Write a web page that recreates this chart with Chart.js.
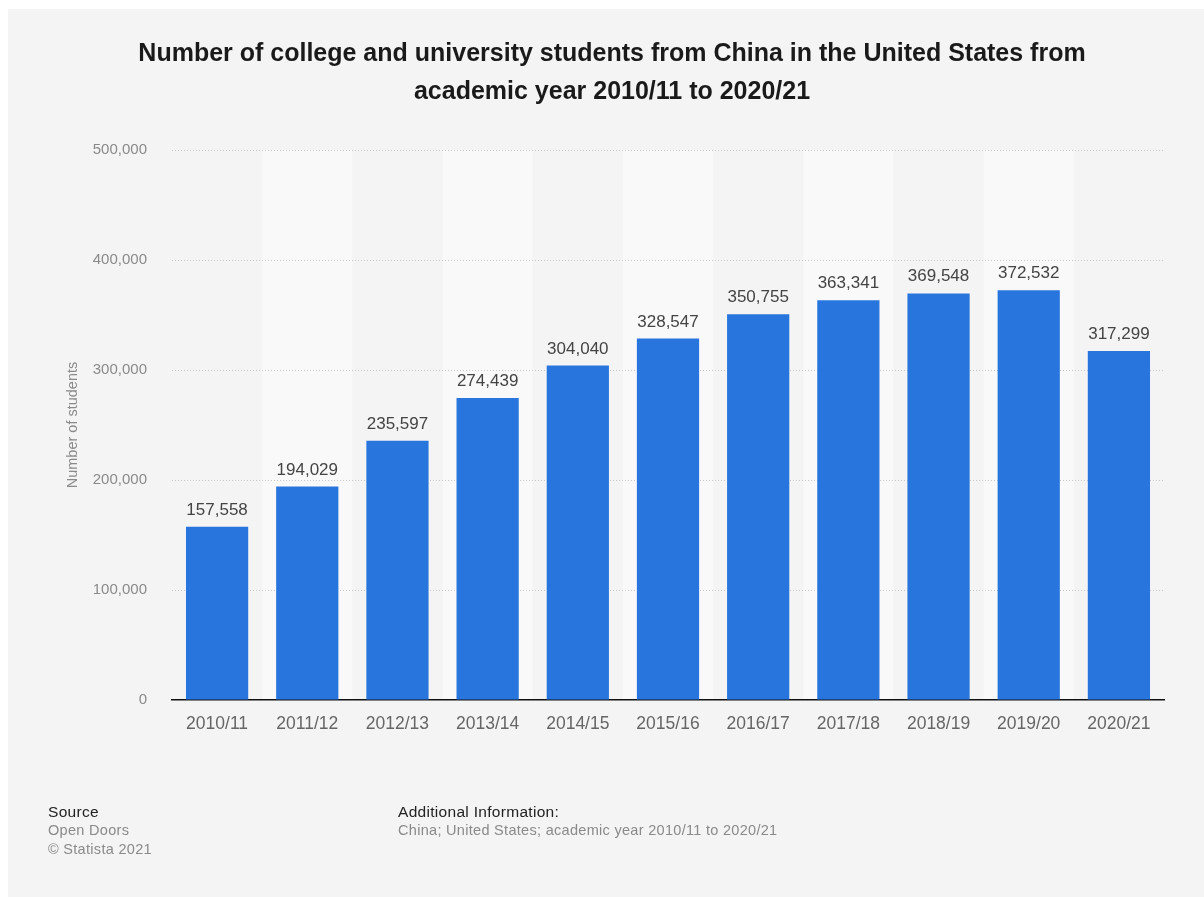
<!DOCTYPE html>
<html>
<head>
<meta charset="utf-8">
<script src="https://cdn.jsdelivr.net/npm/chart.js@4"></script>
<style>
  html, body { margin: 0; padding: 0; background: #ffffff; width: 1204px; height: 897px; overflow: hidden; }
  #panel { position: absolute; left: 8px; top: 9px; right: 0; bottom: 0; background: #f4f4f4; }
  #wrap { position: absolute; left: 0; top: 0; width: 1204px; height: 897px; }
  .foot { position: absolute; font-family: "Liberation Sans", Arial, sans-serif; line-height: 19px; }
  .head { color: #222; font-size: 15.5px; letter-spacing: 0.3px; }
  .sub { color: #8a8a8a; font-size: 14.5px; letter-spacing: 0.3px; }
</style>
</head>
<body>
<div id="panel"></div>
<div id="wrap"><canvas id="grafico" width="1204" height="897"></canvas></div>
<div class="foot" style="left:48px; top:802px;">
  <div class="head">Source</div>
  <div class="sub">Open Doors</div>
  <div class="sub">© Statista 2021</div>
</div>
<div class="foot" style="left:398px; top:802px;">
  <div class="head">Additional Information:</div>
  <div class="sub">China; United States; academic year 2010/11 to 2020/21</div>
</div>
<script>
const anios = ['2010/11', '2011/12', '2012/13', '2013/14', '2014/15', '2015/16', '2016/17', '2017/18', '2018/19', '2019/20', '2020/21'];
const estudiantes = [157558, 194029, 235597, 274439, 304040, 328547, 350755, 363341, 369548, 372532, 317299];
const ticksY = [0, 100000, 200000, 300000, 400000, 500000];

const fmt = n => n.toLocaleString('en-US');
const fuente = '"Liberation Sans", Arial, sans-serif';

// bandas claras detras de las categorias pares (se pintan antes que la grilla)
const fondo = {
  id: 'fondo',
  beforeDraw(chart) {
    const {ctx, chartArea, scales: {x}} = chart;
    const ancho = (chartArea.right - chartArea.left) / anios.length;
    ctx.save();
    ctx.fillStyle = '#f9f9f9';
    anios.forEach((a, i) => {
      if (i % 2 === 1) {
        const cx = x.getPixelForValue(i);
        ctx.fillRect(cx - ancho / 2, chartArea.top, ancho, chartArea.bottom - chartArea.top);
      }
    });
    ctx.restore();
  }
};

// etiquetas de valor encima de cada barra
const etiquetas = {
  id: 'etiquetas',
  afterDatasetsDraw(chart) {
    const {ctx} = chart;
    const meta = chart.getDatasetMeta(0);
    ctx.save();
    ctx.font = '17px ' + fuente;
    ctx.fillStyle = '#444444';
    ctx.textAlign = 'center';
    ctx.textBaseline = 'alphabetic';
    meta.data.forEach((bar, i) => {
      ctx.fillText(fmt(estudiantes[i]), bar.x, bar.y - 12);
    });
    ctx.restore();
  }
};

const $ctx = document.getElementById('grafico').getContext('2d');

const chart = new Chart($ctx, {
  type: 'bar',
  data: {
    labels: anios,
    datasets: [{
      label: 'Number of students',
      data: estudiantes,
      backgroundColor: '#2876dd',
      borderWidth: 0,
      barPercentage: 0.69,
      categoryPercentage: 1.0
    }]
  },
  options: {
    responsive: false,
    animation: false,
    layout: { padding: { top: 14, left: 60, right: 40, bottom: 157 } },
    plugins: {
      legend: { display: false },
      tooltip: { enabled: false },
      title: {
        display: true,
        text: ['Number of college and university students from China in the United States from', 'academic year 2010/11 to 2020/21'],
        color: '#1a1a1a',
        font: { family: fuente, size: 25, weight: 'bold', lineHeight: '38px' },
        padding: { top: 21, bottom: 39 }
      }
    },
    scales: {
      x: {
        grid: { display: false },
        border: { display: true, color: '#111111', width: 1.5 },
        ticks: { color: '#666666', font: { family: fuente, size: 17.5 }, padding: 6 },
        afterFit(scale) { scale.height = 40; }
      },
      y: {
        min: 0,
        max: 500000,
        afterBuildTicks(scale) { scale.ticks = ticksY.map(v => ({ value: v })); },
        grid: {
          color: ctx => ctx.tick && ctx.tick.value === 0 ? 'rgba(0,0,0,0)' : '#c8c8c8',
          lineWidth: 1,
          drawTicks: false
        },
        border: { display: false, dash: [1, 2] },
        ticks: {
          color: '#8a8a8a',
          font: { family: fuente, size: 15 },
          padding: 25,
          callback: v => fmt(v)
        },
        title: {
          display: true,
          text: 'Number of students',
          color: '#8a8a8a',
          font: { family: fuente, size: 14.5 }
        },
        afterFit(scale) { scale.width = 112; }
      }
    }
  },
  plugins: [fondo, etiquetas]
});
</script>
</body>
</html>
